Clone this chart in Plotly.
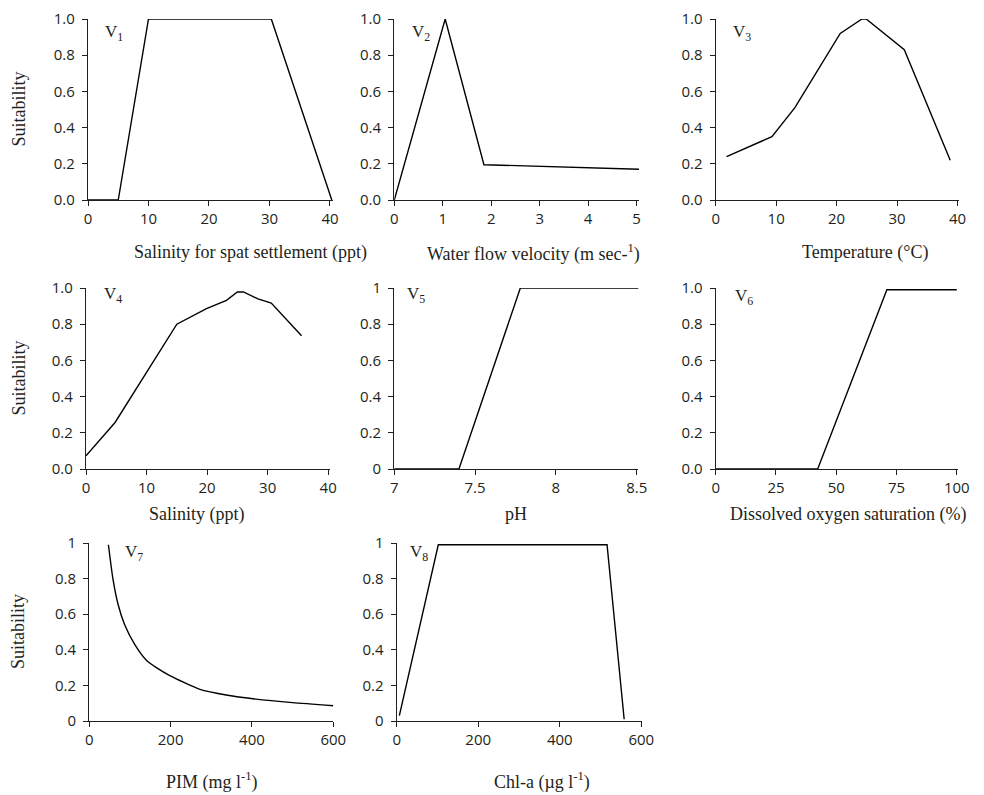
import plotly.graph_objects as go

# page is shown with an 8px body margin, so work in reference pixels and shift
OFF = 8
W, H = 984 - OFF, 795 - OFF

# ---- data ----
v1_x = [0, 5, 10, 30.3, 40.3]
v1_y = [0, 0, 1.0, 1.0, 0]
v2_x = [0, 1.05, 1.85, 5.07]
v2_y = [0.0, 1.0, 0.195, 0.17]
v3_x = [1.8, 9.3, 13.1, 20.6, 24.2, 24.9, 31.2, 38.8]
v3_y = [0.24, 0.35, 0.51, 0.92, 1.0, 1.0, 0.83, 0.22]
v4_x = [0, 4.8, 15.0, 19.9, 23.2, 25.0, 26.0, 28.4, 30.6, 35.6]
v4_y = [0.073, 0.257, 0.80, 0.886, 0.932, 0.978, 0.978, 0.94, 0.917, 0.736]
v5_x = [7.0, 7.4, 7.78, 8.55]
v5_y = [0, 0, 1.0, 1.0]
v6_x = [0, 42.3, 71, 100]
v6_y = [0, 0, 0.99, 0.99]
v7_x = [47, 58, 71, 87, 112, 141, 165, 198, 272, 340, 403, 500, 600]
v7_y = [0.99, 0.80, 0.653, 0.541, 0.429, 0.34, 0.30, 0.255, 0.178, 0.145, 0.125, 0.103, 0.086]
v8_x = [6.5, 102, 516, 558]
v8_y = [0.03, 0.99, 0.99, 0.01]

x_titles = ["Salinity for spat settlement (ppt)", "Water flow velocity (m sec-<sup>1</sup>)",
            "Temperature (°C)", "Salinity (ppt)", "pH", "Dissolved oxygen saturation (%)",
            "PIM (mg l<sup>-1</sup>)", "Chl-a (µg l<sup>-1</sup>)"]
panel_labels = ["V<sub>1</sub>", "V<sub>2</sub>", "V<sub>3</sub>", "V<sub>4</sub>",
                "V<sub>5</sub>", "V<sub>6</sub>", "V<sub>7</sub>", "V<sub>8</sub>"]

y_ticks = [0, 0.2, 0.4, 0.6, 0.8, 1.0]
y_text_dec = ["0.0", "0.2", "0.4", "0.6", "0.8", "1.0"]
y_text_int = ["0", "0.2", "0.4", "0.6", "0.8", "1"]

x_ticks = [
    [0, 10, 20, 30, 40],
    [0, 1, 2, 3, 4, 5],
    [0, 10, 20, 30, 40],
    [0, 10, 20, 30, 40],
    [7, 7.5, 8, 8.5],
    [0, 25, 50, 75, 100],
    [0, 200, 400, 600],
    [0, 200, 400, 600],
]
x_text = [
    ["0", "10", "20", "30", "40"],
    ["0", "1", "2", "3", "4", "5"],
    ["0", "10", "20", "30", "40"],
    ["0", "10", "20", "30", "40"],
    ["7", "7.5", "8", "8.5"],
    ["0", "25", "50", "75", "100"],
    ["0", "200", "400", "600"],
    ["0", "200", "400", "600"],
]

series = [(v1_x, v1_y), (v2_x, v2_y), (v3_x, v3_y), (v4_x, v4_y),
          (v5_x, v5_y), (v6_x, v6_y), (v7_x, v7_y), (v8_x, v8_y)]
y_texts = [y_text_dec, y_text_dec, y_text_dec, y_text_dec, y_text_int, y_text_dec, y_text_int, y_text_int]

# ---- layout geometry (reference pixels) ----
x_ranges = [[0, 40.5], [0, 5.05], [0, 40.3], [0, 40.3], [7, 8.51], [0, 100.5], [0, 600], [0, 601]]
x_px = [(88, 333), (394.3, 639), (715.7, 959.3), (86, 330), (394.3, 638.3), (715.7, 958), (89.3, 333.3), (396.7, 641.7)]
row_px = [(19, 200), (288, 469), (543, 721)]
rows = [0, 0, 0, 1, 1, 1, 2, 2]
title_pos = [(250, 253), (533, 253), (865, 253), (197, 514), (516, 514), (848, 514), (212, 781), (542, 781)]
label_pos = [(103, 33), (410, 33), (731, 33), (101.7, 295), (405, 295), (733, 297), (123, 553), (408, 553)]

TICK_FONT = dict(family="Open Sans, sans-serif", size=15, color="#231f20")
SERIF = "Liberation Serif, serif"
AX_COL = "#231f20"

def px_x(p):
    return (p - OFF) / W

def px_y(p):
    return 1 - (p - OFF) / H

fig = go.Figure()
layout = dict(width=W, height=H, margin=dict(l=0, r=0, t=0, b=0, pad=0, autoexpand=False),
              paper_bgcolor="white", plot_bgcolor="white", showlegend=False,
              annotations=[])

for i, (xs, ys) in enumerate(series):
    n = "" if i == 0 else str(i + 1)
    fig.add_trace(go.Scatter(x=xs, y=ys, mode="lines",
                             line=dict(color="black", width=1.4,
                                       shape="spline" if i == 6 else "linear",
                                       smoothing=0.6 if i == 6 else 0),
                             cliponaxis=False,
                             xaxis="x" + n, yaxis="y" + n, hoverinfo="skip"))
    top, bot = row_px[rows[i]]
    layout["xaxis" + n] = dict(domain=[px_x(x_px[i][0]), px_x(x_px[i][1])], range=x_ranges[i],
                               anchor="y" + n, showgrid=False, zeroline=False, automargin=False,
                               showline=True, linecolor=AX_COL, linewidth=1.3,
                               ticks="outside", ticklen=5, tickwidth=1.2, tickcolor=AX_COL,
                               tickvals=x_ticks[i], ticktext=x_text[i], tickfont=TICK_FONT,
                               ticklabelstandoff=0)
    layout["yaxis" + n] = dict(domain=[px_y(bot), px_y(top)], range=[0, 1.0],
                               anchor="x" + n, showgrid=False, zeroline=False, automargin=False,
                               showline=True, linecolor=AX_COL, linewidth=1.3,
                               ticks="outside", ticklen=5, tickwidth=1.2, tickcolor=AX_COL,
                               tickvals=y_ticks, ticktext=y_texts[i], tickfont=TICK_FONT,
                               ticklabelstandoff=4)
    tx, ty = title_pos[i]
    layout["annotations"].append(dict(text=x_titles[i], x=px_x(tx), y=px_y(ty), xref="paper", yref="paper",
                                      showarrow=False, xanchor="center", yanchor="middle",
                                      font=dict(family=SERIF, size=18, color="#231f20")))
    lx, ly = label_pos[i]
    layout["annotations"].append(dict(text=panel_labels[i], x=px_x(lx), y=px_y(ly), xref="paper", yref="paper",
                                      showarrow=False, xanchor="left", yanchor="middle",
                                      font=dict(family=SERIF, size=17, color="#231f20")))

for top, bot in row_px:
    layout["annotations"].append(dict(text="Suitability", x=px_x(18), y=px_y((top + bot) / 2),
                                      xref="paper", yref="paper", showarrow=False, textangle=-90,
                                      xanchor="center", yanchor="middle",
                                      font=dict(family=SERIF, size=18, color="#231f20")))

fig.update_layout(**layout)
fig.write_html("out.html")
